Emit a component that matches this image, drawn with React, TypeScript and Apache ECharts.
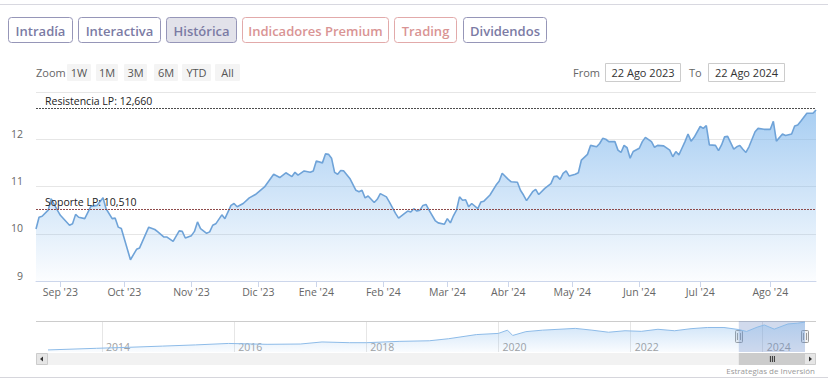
import React, { useEffect, useRef } from 'react';
import * as echarts from 'echarts';

// ---------- data ----------
const startDate = '2023-08-22';
const endDate = '2024-08-22';
const marketHolidays = ['2023-12-25', '2023-12-26', '2024-01-01', '2024-03-29', '2024-04-01', '2024-05-01'];
const monthNames = ['Ene', 'Feb', 'Mar', 'Abr', 'May', 'Jun', 'Jul', 'Ago', 'Sep', 'Oct', 'Nov', 'Dic'];

// trading-session number (0 = 22 Ago 2023) and closing price
const sessionIdx = [
  0, 1, 2, 4, 5, 7, 8, 11, 12, 13, 14, 16, 18, 20, 22, 23, 25, 26, 27, 28,
  31, 33, 34, 37, 39, 40, 42, 43, 45, 47, 48, 49, 51, 52, 53, 54, 56, 57, 58, 59,
  61, 62, 64, 65, 66, 68, 70, 72, 75, 77, 78, 80, 82, 84, 85, 86, 88, 90, 91, 92,
  94, 95, 96, 97, 98, 99, 100, 101, 103, 105, 106, 107, 108, 109, 111, 112, 113, 115, 116, 118,
  119, 121, 122, 123, 124, 125, 126, 127, 128, 129, 131, 132, 134, 135, 136, 137, 138, 139, 140, 141,
  142, 143, 145, 146, 147, 149, 151, 152, 153, 155, 156, 158, 159, 160, 161, 163, 164, 165, 167, 169,
  170, 171, 172, 173, 174, 175, 177, 178, 179, 181, 182, 184, 185, 186, 187, 188, 190, 191, 192, 193,
  194, 195, 196, 198, 199, 200, 202, 203, 204, 206, 208, 209, 210, 211, 212, 213, 214, 215, 216, 218,
  219, 220, 221, 223, 224, 225, 226, 227, 229, 230, 231, 232, 233, 234, 236, 237, 239, 241, 242, 243,
  245, 246, 248, 249, 250, 251, 253, 255, 256,
];
const prices = [
  10.10, 10.35, 10.37, 10.50, 10.74, 10.50, 10.39, 10.18, 10.21, 10.41, 10.35, 10.32, 10.58, 10.60, 10.76, 10.53, 10.32, 10.33, 10.14, 10.11,
  9.45, 9.67, 9.70, 10.14, 10.09, 10.04, 9.93, 9.93, 9.84, 10.06, 10.05, 9.91, 9.96, 10.05, 10.25, 10.11, 10.01, 10.04, 10.18, 10.21,
  10.40, 10.32, 10.60, 10.64, 10.57, 10.64, 10.76, 10.83, 10.99, 11.17, 11.26, 11.19, 11.29, 11.21, 11.30, 11.24, 11.33, 11.30, 11.33, 11.54,
  11.50, 11.69, 11.68, 11.60, 11.30, 11.26, 11.34, 11.33, 11.17, 10.92, 10.89, 10.92, 10.76, 10.80, 10.66, 10.73, 10.85, 10.78, 10.67, 10.43,
  10.33, 10.43, 10.48, 10.46, 10.53, 10.48, 10.50, 10.60, 10.62, 10.50, 10.28, 10.23, 10.20, 10.32, 10.23, 10.38, 10.50, 10.78, 10.71, 10.72,
  10.57, 10.64, 10.53, 10.67, 10.69, 10.82, 11.03, 11.11, 11.28, 11.15, 11.10, 11.09, 10.92, 10.82, 10.70, 10.89, 10.94, 10.83, 10.96, 11.06,
  11.21, 11.22, 11.15, 11.28, 11.33, 11.22, 11.26, 11.29, 11.56, 11.68, 11.87, 11.84, 11.91, 12.02, 12.00, 11.95, 11.95, 11.77, 11.72, 11.87,
  11.82, 11.60, 11.74, 11.81, 11.95, 12.04, 11.95, 11.83, 11.87, 11.86, 11.77, 11.63, 11.74, 11.67, 11.81, 11.95, 12.11, 11.96, 12.04, 12.27,
  12.23, 12.29, 11.88, 11.87, 11.76, 11.88, 12.05, 12.06, 11.79, 11.84, 11.87, 11.79, 11.72, 11.84, 12.16, 12.23, 12.21, 12.21, 12.38, 11.96,
  12.11, 12.08, 12.11, 12.28, 12.30, 12.38, 12.55, 12.55, 12.62,
];

const resistencia = { name: 'Resistencia LP', value: 12.66 };
const soporte = { name: 'Soporte LP', value: 10.51 };

const yMin = 9;
const yMax = 13;
const yInterval = 1;

// navigator (full history)
const navDates = [
  '2013-03-08', '2013-12-01', '2014-06-01', '2014-12-01', '2015-06-01', '2015-12-01', '2016-07-01', '2017-01-01',
  '2017-05-01', '2017-10-01', '2018-01-01', '2018-07-01', '2018-12-15', '2019-04-01', '2019-09-01', '2020-01-01',
  '2020-02-20', '2020-03-20', '2020-06-01', '2020-09-01', '2020-12-01', '2021-03-01', '2021-06-01', '2021-09-01',
  '2021-12-01', '2022-03-01', '2022-06-01', '2022-09-01', '2022-12-01', '2023-03-01', '2023-06-01', '2023-08-22',
  '2023-10-04', '2023-12-01', '2024-01-10', '2024-03-05', '2024-05-20', '2024-07-10', '2024-08-22',
];
const navValues = [
  3.2, 3.75, 4.1, 4.5, 4.9, 5.4, 5.1, 5.2,
  5.9, 5.65, 5.65, 6.1, 6.3, 7.0, 8.4, 8.8,
  9.9, 8.1, 9.4, 9.9, 10.2, 10.5, 9.9, 9.2,
  9.7, 9.5, 10.2, 9.7, 10.4, 10.8, 10.8, 10.1,
  9.45, 10.9, 11.65, 10.25, 12.0, 12.25, 12.62,
];
const navYears = [2014, 2016, 2018, 2020, 2022, 2024];

const tabLabels = ['Intradía', 'Interactiva', 'Histórica', 'Indicadores Premium', 'Trading', 'Dividendos'];
const zoomLabels = ['1W', '1M', '3M', '6M', 'YTD', 'All'];
const fromLabel = '22 Ago 2023';
const toLabel = '22 Ago 2024';
const creditText = 'Estrategias de Inversión';

// ---------- helpers ----------
function buildTradingDays(): string[] {
  const out: string[] = [];
  const d = new Date(startDate + 'T00:00:00Z');
  const end = new Date(endDate + 'T00:00:00Z');
  while (d.getTime() <= end.getTime()) {
    const wd = d.getUTCDay();
    const iso = d.toISOString().slice(0, 10);
    if (wd !== 0 && wd !== 6 && !marketHolidays.includes(iso)) out.push(iso);
    d.setUTCDate(d.getUTCDate() + 1);
  }
  return out;
}
const ts = (s: string) => new Date(s + 'T00:00:00Z').getTime();

const FONT = "'Open Sans', 'DejaVu Sans', sans-serif";

export default function App() {
  const ref = useRef<HTMLDivElement>(null);

  useEffect(() => {
    if (!ref.current) return;
    const chart = echarts.init(ref.current, undefined, { renderer: 'svg' });

    const days = buildTradingDays();
    const monthTicks: number[] = [];
    const monthLabelMap: Record<number, string> = {};
    for (let i = 1; i < days.length; i++) {
      if (days[i].slice(0, 7) !== days[i - 1].slice(0, 7)) {
        monthTicks.push(i);
        const m = parseInt(days[i].slice(5, 7), 10);
        monthLabelMap[i] = `${monthNames[m - 1]} '${days[i].slice(2, 4)}`;
      }
    }
    const lastIdx = days.length - 1;
    const mainData = sessionIdx.map((s, i) => [s, prices[i]]);
    const navData = navDates.map((d, i) => [ts(d), navValues[i]]);
    const yearTicks = navYears.map((y) => Date.UTC(y, 0, 1));
    const selStart = ts(startDate);
    const selEnd = ts(endDate);
    const fmt = (v: number) => v.toFixed(3).replace('.', ',');

    chart.setOption({
      animation: false,
      backgroundColor: '#ffffff',
      textStyle: { fontFamily: FONT },
      grid: [
        { left: 36, right: 12, top: 92, height: 189, containLabel: false },
        { left: 48, right: 23, top: 321, height: 31, containLabel: false },
      ],
      xAxis: [
        {
          type: 'value',
          gridIndex: 0,
          min: 0,
          max: lastIdx,
          axisLine: { show: true, lineStyle: { color: '#ccd6eb', width: 1 } },
          axisTick: { show: true, customValues: monthTicks, length: 6, lineStyle: { color: '#ccd6eb' } },
          axisLabel: {
            customValues: monthTicks,
            formatter: (v: number) => monthLabelMap[v] || '',
            color: '#666666',
            fontSize: 10.5,
            fontFamily: FONT,
            margin: 5,
          },
          splitLine: { show: false },
        },
        {
          type: 'value',
          gridIndex: 1,
          min: navData[0][0],
          max: navData[navData.length - 1][0],
          axisLine: { show: false },
          axisTick: { show: false, customValues: yearTicks },
          axisLabel: {
            customValues: yearTicks,
            formatter: (v: number) => String(new Date(v).getUTCFullYear()),
            inside: true,
            align: 'left',
            verticalAlign: 'middle',
            margin: 5,
            padding: [0, 0, 0, 4],
            color: '#a0a0a0',
            fontSize: 10.5,
            fontFamily: FONT,
          },
          splitLine: { show: true, lineStyle: { color: '#e6e6e6', width: 1 } },
        },
      ],
      yAxis: [
        {
          type: 'value',
          gridIndex: 0,
          min: yMin,
          max: yMax,
          interval: yInterval,
          axisLine: { show: false },
          axisTick: { show: false },
          axisLabel: {
            showMaxLabel: false,
            color: '#666666',
            fontSize: 10.5,
            fontFamily: FONT,
            margin: 13,
            verticalAlign: 'bottom',
          },
          splitLine: { show: true, lineStyle: { color: '#e6e6e6', width: 1 } },
        },
        {
          type: 'value',
          gridIndex: 1,
          min: 2.5,
          max: 13,
          show: false,
          splitLine: { show: false },
        },
      ],
      series: [
        {
          type: 'line',
          xAxisIndex: 0,
          yAxisIndex: 0,
          data: mainData,
          showSymbol: false,
          symbol: 'none',
          lineStyle: { color: '#6fa3d8', width: 1.6 },
          areaStyle: {
            origin: 'start',
            color: new echarts.graphic.LinearGradient(0, 0, 0, 1, [
              { offset: 0, color: 'rgba(124,181,236,0.95)' },
              { offset: 1, color: 'rgba(124,181,236,0.04)' },
            ]),
          },
          markLine: {
            silent: true,
            symbol: 'none',
            animation: false,
            label: {
              show: true,
              position: 'insideStartTop',
              distance: [9, 2],
              formatter: (p: any) => `${p.name}: ${fmt(p.value)}`,
              color: '#222222',
              fontSize: 10.5,
              fontFamily: FONT,
            },
            data: [
              {
                name: resistencia.name,
                yAxis: resistencia.value,
                lineStyle: { color: '#4d4d4d', type: [2, 1], width: 1 },
              },
              {
                name: soporte.name,
                yAxis: soporte.value,
                lineStyle: { color: '#8e4a4a', type: [2, 1], width: 1 },
              },
            ],
          },
        },
        {
          type: 'line',
          xAxisIndex: 1,
          yAxisIndex: 1,
          data: navData,
          showSymbol: false,
          symbol: 'none',
          lineStyle: { color: '#8dbbe8', width: 1 },
          areaStyle: {
            origin: 'start',
            color: new echarts.graphic.LinearGradient(0, 0, 0, 1, [
              { offset: 0, color: 'rgba(124,181,236,0.55)' },
              { offset: 1, color: 'rgba(124,181,236,0.06)' },
            ]),
          },
          markArea: {
            silent: true,
            itemStyle: { color: 'rgba(102,133,194,0.3)' },
            data: [[{ xAxis: selStart }, { xAxis: selEnd }]],
          },
        },
      ],
    });

    // ---------- decorations ----------
    const hx0 = chart.convertToPixel({ xAxisIndex: 1 }, selStart) as number;
    const hx1 = chart.convertToPixel({ xAxisIndex: 1 }, selEnd) as number;

    const g: any[] = [];
    g.push({ type: 'line', shape: { x1: 0, y1: 4.5, x2: 828, y2: 4.5 }, style: { stroke: '#d8d8e0', lineWidth: 1 } });
    g.push({ type: 'line', shape: { x1: 0, y1: 377.5, x2: 828, y2: 377.5 }, style: { stroke: '#d6d6dc', lineWidth: 1 } });

    // tabs
    const tabX = [8, 78, 166, 242, 394, 463];
    const tabW = [64, 82, 70, 146, 62, 83];
    tabLabels.forEach((t, i) => {
      const salmon = i === 3 || i === 4;
      const active = i === 2;
      g.push({
        type: 'rect',
        shape: { x: tabX[i] + 0.5, y: 17.5, width: tabW[i], height: 25, r: 3 },
        style: {
          fill: active ? '#e2e2ea' : '#ffffff',
          stroke: salmon ? '#e2aaaa' : '#9696b8',
          lineWidth: 1,
        },
      });
      g.push({
        type: 'text',
        x: tabX[i] + 0.5 + tabW[i] / 2,
        y: 30.5,
        style: {
          text: t,
          fill: salmon ? '#d99494' : '#7b7ba4',
          fontSize: 13,
          fontWeight: 600,
          fontFamily: FONT,
          align: 'center',
          verticalAlign: 'middle',
        },
      });
    });

    // zoom row
    g.push({
      type: 'text', x: 36, y: 72.5,
      style: { text: 'Zoom', fill: '#666666', fontSize: 11, fontFamily: FONT, align: 'left', verticalAlign: 'middle' },
    });
    const zx = [67, 96, 124, 154, 182, 215];
    const zw = [24, 22, 23, 24, 29, 25];
    zoomLabels.forEach((t, i) => {
      g.push({ type: 'rect', shape: { x: zx[i], y: 64, width: zw[i], height: 17, r: 1 }, style: { fill: '#f4f4f4' } });
      g.push({
        type: 'text', x: zx[i] + zw[i] / 2, y: 72.5,
        style: { text: t, fill: '#555555', fontSize: 11, fontFamily: FONT, align: 'center', verticalAlign: 'middle' },
      });
    });

    // From / To
    g.push({
      type: 'text', x: 600, y: 72.5,
      style: { text: 'From', fill: '#666666', fontSize: 11, fontFamily: FONT, align: 'right', verticalAlign: 'middle' },
    });
    g.push({ type: 'rect', shape: { x: 605.5, y: 63.5, width: 75, height: 18 }, style: { fill: '#ffffff', stroke: '#cccccc', lineWidth: 1 } });
    g.push({
      type: 'text', x: 643, y: 72.5,
      style: { text: fromLabel, fill: '#333333', fontSize: 11, fontFamily: FONT, align: 'center', verticalAlign: 'middle' },
    });
    g.push({
      type: 'text', x: 689, y: 72.5,
      style: { text: 'To', fill: '#666666', fontSize: 11, fontFamily: FONT, align: 'left', verticalAlign: 'middle' },
    });
    g.push({ type: 'rect', shape: { x: 708.5, y: 63.5, width: 76, height: 18 }, style: { fill: '#ffffff', stroke: '#cccccc', lineWidth: 1 } });
    g.push({
      type: 'text', x: 746.5, y: 72.5,
      style: { text: toLabel, fill: '#333333', fontSize: 11, fontFamily: FONT, align: 'center', verticalAlign: 'middle' },
    });

    // navigator outline
    g.push({ type: 'line', shape: { x1: 36, y1: 321.5, x2: 816, y2: 321.5 }, style: { stroke: '#cccccc', lineWidth: 1 } });

    // scrollbar
    g.push({ type: 'rect', shape: { x: 36, y: 353, width: 780, height: 12 }, style: { fill: '#f2f2f2' } });
    g.push({ type: 'rect', shape: { x: hx0, y: 353, width: hx1 - hx0, height: 12 }, style: { fill: '#cccccc' } });
    const gc = (hx0 + hx1) / 2;
    [-2, 0, 2].forEach((o) => {
      g.push({ type: 'line', shape: { x1: gc + o + 0.5, y1: 356, x2: gc + o + 0.5, y2: 362 }, style: { stroke: '#333333', lineWidth: 1 } });
    });
    g.push({ type: 'rect', shape: { x: 36.5, y: 353.5, width: 11, height: 11 }, style: { fill: '#e6e6e6', stroke: '#cccccc', lineWidth: 1 } });
    g.push({ type: 'polygon', shape: { points: [[40, 359], [43, 356.5], [43, 361.5]] }, style: { fill: '#333333' } });
    g.push({ type: 'rect', shape: { x: 804.5, y: 353.5, width: 11, height: 11 }, style: { fill: '#e6e6e6', stroke: '#cccccc', lineWidth: 1 } });
    g.push({ type: 'polygon', shape: { points: [[812, 359], [809, 356.5], [809, 361.5]] }, style: { fill: '#333333' } });

    // handles
    [hx0, hx1].forEach((hx) => {
      const h = Math.round(hx);
      g.push({ type: 'rect', shape: { x: h - 3.5, y: 330.5, width: 7, height: 12, r: 1 }, style: { fill: '#f2f2f2', stroke: '#999999', lineWidth: 1 } });
      g.push({ type: 'line', shape: { x1: h - 1.5, y1: 333, x2: h - 1.5, y2: 340 }, style: { stroke: '#999999', lineWidth: 1 } });
      g.push({ type: 'line', shape: { x1: h + 1.5, y1: 333, x2: h + 1.5, y2: 340 }, style: { stroke: '#999999', lineWidth: 1 } });
    });

    // credits
    g.push({
      type: 'text', x: 815, y: 370,
      style: { text: creditText, fill: '#999999', fontSize: 8, fontFamily: FONT, align: 'right', verticalAlign: 'middle' },
    });

    chart.setOption({ graphic: g });

    return () => {
      chart.dispose();
    };
  }, []);

  return (
    <div
      ref={ref}
      style={{ position: 'absolute', left: 0, top: 0, width: 828, height: 384, background: '#ffffff' }}
    />
  );
}
